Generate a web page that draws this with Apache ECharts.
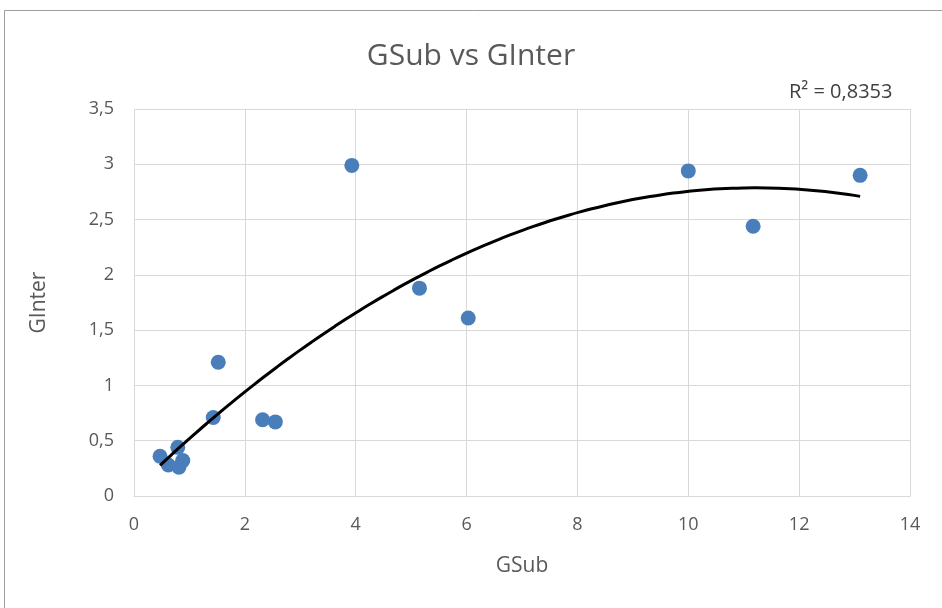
<!DOCTYPE html>
<html>
<head>
<meta charset="utf-8">
<script src="https://cdn.jsdelivr.net/npm/echarts@6/dist/echarts.min.js"></script>
<style>
  html, body { margin: 0; padding: 0; background: #fff; }
  #chart { width: 942px; height: 608px; }
</style>
</head>
<body>
<div id="chart"></div>
<script>
// points
const gsub   = [0.47, 0.62, 0.79, 0.81, 0.88, 1.43, 1.52, 2.32, 2.55, 3.93, 5.15, 6.03, 10.0, 11.17, 13.1];
const ginter = [0.36, 0.28, 0.44, 0.26, 0.32, 0.71, 1.21, 0.69, 0.67, 2.99, 1.88, 1.61, 2.94, 2.44, 2.90];
const xTicks = [0, 2, 4, 6, 8, 10, 12, 14];
const yTicks = [0, 0.5, 1, 1.5, 2, 2.5, 3, 3.5];
const r2Label = 'R² = 0,8353';

const points = gsub.map((x, i) => [x, ginter[i]]);

// 2nd order least squares, like the excel trendline
function polyFit2(xs, ys) {
    let s = [0, 0, 0, 0, 0], t = [0, 0, 0];
    for (let i = 0; i < xs.length; i++) {
        let p = 1;
        for (let k = 0; k < 5; k++) { s[k] += p; if (k < 3) t[k] += p * ys[i]; p *= xs[i]; }
    }
    const m = [[s[0], s[1], s[2], t[0]], [s[1], s[2], s[3], t[1]], [s[2], s[3], s[4], t[2]]];
    for (let c = 0; c < 3; c++) {
        for (let r = c + 1; r < 3; r++) {
            const f = m[r][c] / m[c][c];
            for (let k = c; k < 4; k++) m[r][k] -= f * m[c][k];
        }
    }
    const a = [0, 0, 0];
    for (let r = 2; r >= 0; r--) {
        let v = m[r][3];
        for (let k = r + 1; k < 3; k++) v -= m[r][k] * a[k];
        a[r] = v / m[r][r];
    }
    return a;
}
const coef = polyFit2(gsub, ginter);
const xMin = Math.min(...gsub), xMax = Math.max(...gsub);
const trend = [];
for (let i = 0; i <= 60; i++) {
    const x = xMin + (xMax - xMin) * i / 60;
    trend.push([x, coef[0] + coef[1] * x + coef[2] * x * x]);
}

const comma = v => String(v).replace('.', ',');
const font = '"Open Sans", "Noto Sans", sans-serif';

const chart = echarts.init(document.getElementById('chart'));
chart.setOption({
    animation: false,
    backgroundColor: '#fff',
    textStyle: { fontFamily: font },
    title: {
        text: 'GSub vs GInter',
        left: 'center',
        top: 36,
        textStyle: { fontFamily: font, fontSize: 30, fontWeight: 'normal', color: '#595959' }
    },
    graphic: [
        { type: 'rect', shape: { x: 4.5, y: 10.5, width: 960, height: 620 },
          style: { fill: 'none', stroke: '#9e9e9e', lineWidth: 1 }, silent: true },
        { type: 'text', left: 789, top: 82,
          style: { text: r2Label, fontFamily: font, fontSize: 20, fill: '#404040' } }
    ],
    grid: { left: 134, right: 32, top: 109, bottom: 112 },
    xAxis: {
        type: 'value', min: 0, max: 14, interval: 2,
        name: 'GSub', nameLocation: 'middle', nameGap: 60,
        nameTextStyle: { fontSize: 21, color: '#595959', fontFamily: font },
        axisLine: { show: true, lineStyle: { color: '#d9d9d9' } },
        axisTick: { show: false },
        axisLabel: { fontSize: 18, color: '#595959', margin: 20, formatter: comma },
        splitLine: { lineStyle: { color: '#d9d9d9' } }
    },
    yAxis: {
        type: 'value', min: 0, max: 3.5, interval: 0.5,
        name: 'GInter', nameLocation: 'middle', nameGap: 84, nameRotate: 90,
        nameTextStyle: { fontSize: 21, color: '#595959', fontFamily: font },
        axisLine: { show: false },
        axisTick: { show: false },
        axisLabel: { fontSize: 18, color: '#595959', margin: 20, formatter: comma },
        splitLine: { lineStyle: { color: '#d9d9d9' } }
    },
    series: [
        {
            type: 'scatter',
            data: points,
            symbolSize: 15,
            itemStyle: { color: '#4a7ebb', opacity: 1 }
        },
        {
            type: 'line',
            data: trend,
            showSymbol: false,
            smooth: true,
            lineStyle: { color: '#000', width: 3 },
            z: 3
        }
    ]
});
</script>
</body>
</html>
